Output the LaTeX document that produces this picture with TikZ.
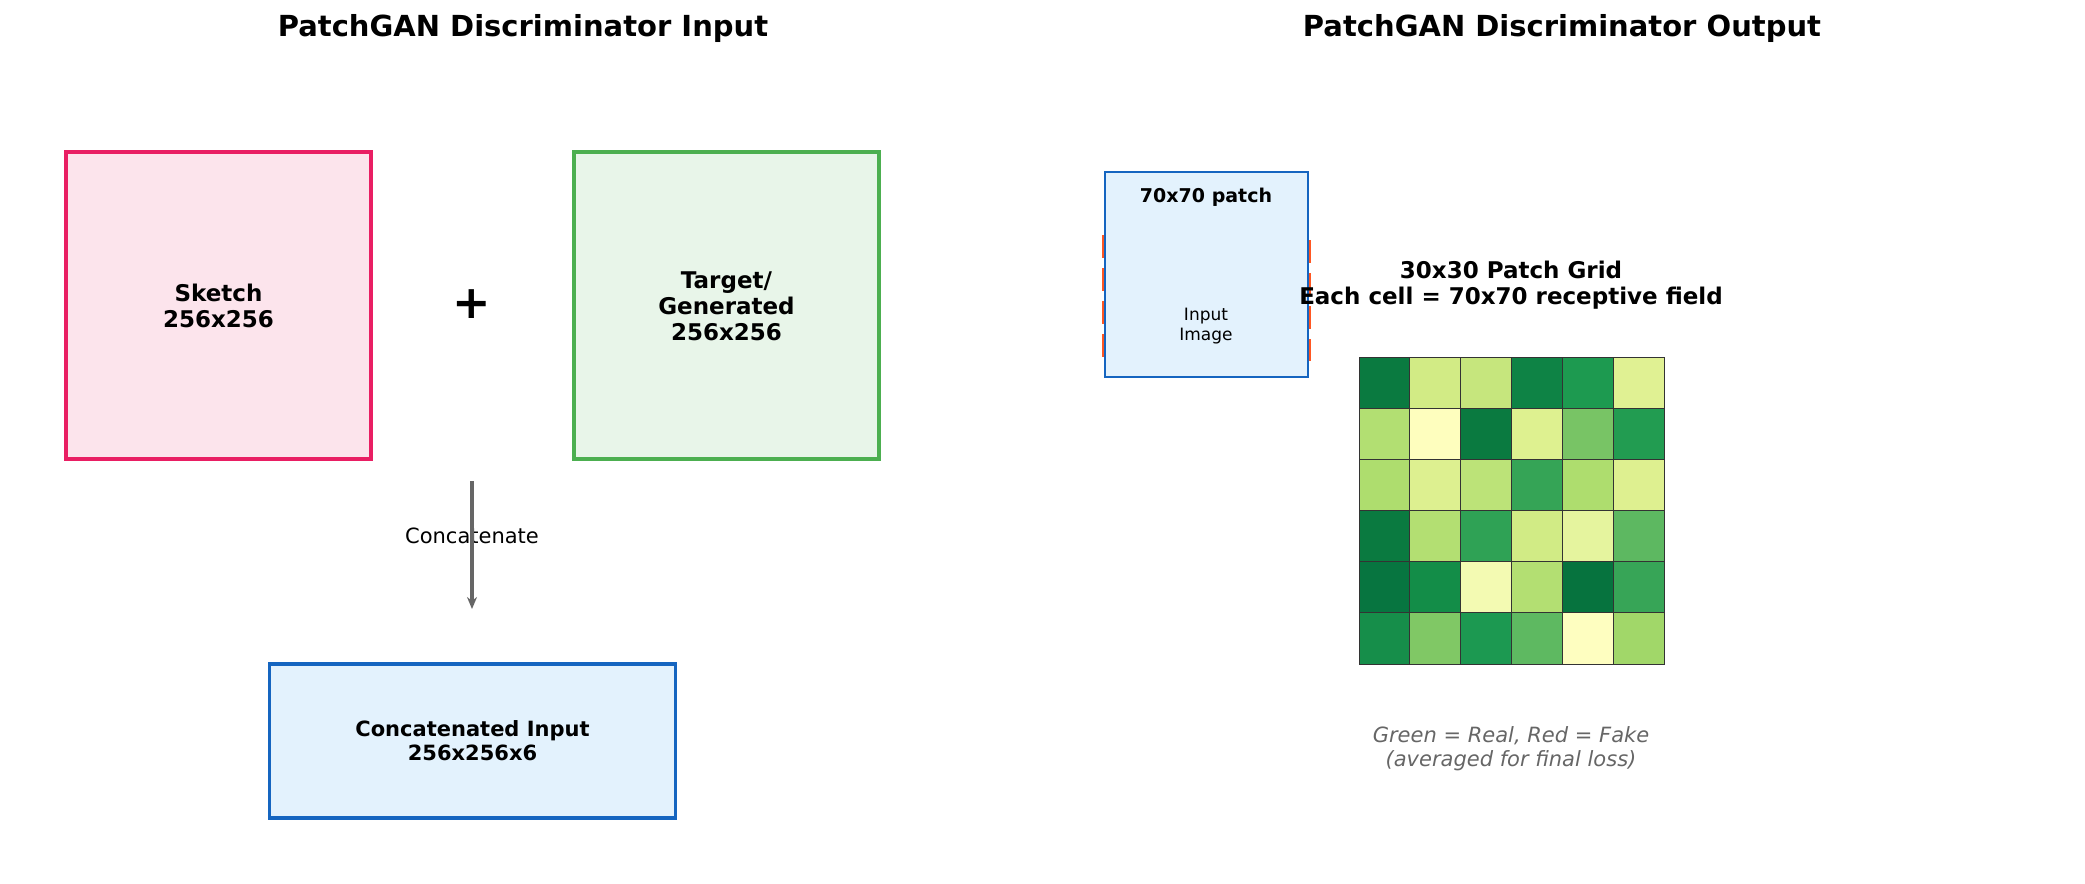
\documentclass[tikz,border=0pt]{standalone}
\usepackage{fontspec}
\setmainfont{DejaVu Sans}
\usetikzlibrary{arrows.meta}
\definecolor{gb}{HTML}{4CAF50}\definecolor{gf}{HTML}{E8F5E9}
\definecolor{bb}{HTML}{1565C0}\definecolor{bf}{HTML}{E3F2FD}
\definecolor{pb}{HTML}{E91E63}\definecolor{pf}{HTML}{FCE4EC}
\definecolor{rd}{HTML}{FF5722}
\begin{document}
\begin{tikzpicture}[x=0.5pt,y=-0.5pt,
  ttl/.style={font=\bfseries\fontsize{14.5}{16}\selectfont},
  lbl/.style={font=\bfseries\fontsize{11.5}{13}\selectfont,align=center},
  cell/.style={draw=black!80,line width=0.4pt}]
\useasboundingbox (0,0) rectangle (2085,884);
\node[ttl] (t1) at (523,28) {PatchGAN Discriminator Input};
\node[ttl] (t2) at (1562,28) {PatchGAN Discriminator Output};
\draw[line width=1.6pt,draw=pb,fill=pf] (66,152) rectangle (371,459);
\node[lbl] (sk) at (218.5,306) {Sketch\\256x256};
\node[font=\bfseries\fontsize{23}{23}\selectfont] (plus) at (472,304) {+};
\draw[line width=1.6pt,draw=gb,fill=gf] (574,152) rectangle (879,459);
\node[lbl] (tg) at (726.5,306) {Target/\\Generated\\256x256};
\node[draw=bb,fill=bf,line width=1.6pt,minimum width=203pt,minimum height=77pt,font=\bfseries\fontsize{10.5}{12}\selectfont,align=center] (cc) at (472.5,741) {Concatenated Input\\256x256x6};
\node[font=\fontsize{10.5}{12}\selectfont] (cl) at (472,536) {Concatenate};
\coordinate (a1) at (472,481);
\coordinate (a2) at (472,609);
\draw[line width=1.6pt,draw=black!60,-{Stealth[length=6pt,width=5pt]}] (a1) -- (a2);
% patch
\draw[rd,line width=1.2pt,dash pattern=on 11.5pt off 5pt] (1103.5,235) rectangle (1310,360);
\draw[draw=bb,fill=bf,line width=0.9pt] (1105,172) rectangle (1308,377);
\node[font=\bfseries\fontsize{9.5}{10}\selectfont] (pt) at (1206,197) {70x70 patch};
\node[font=\fontsize{8.5}{10}\selectfont,align=center] (ii) at (1206,326) {Input\\Image};
\node[lbl] (gt) at (1511,285) {30x30 Patch Grid\\Each cell = 70x70 receptive field};
\foreach \c [count=\k from 0] in {0A7A40,D2EB85,C6E67D,0E8345,1D9A50,E0F193,
  B2DF72,FEFEBE,0A7A40,DEF190,78C465,229C51,
  AEDD6E,DDF090,BCE378,35A456,AEDD6E,DEF090,
  0A7A40,B3DF72,2FA255,D1EB85,E5F49E,5DB861,
  077540,138D48,F3FAB2,B3DF72,06733E,37A557,
  168E4A,80C865,1C9951,5EB961,FEFEC0,A1D769}{
  \pgfmathtruncatemacro{\r}{div(\k,6)}
  \pgfmathtruncatemacro{\i}{mod(\k,6)}
  \definecolor{tmpc}{HTML}{\c}
  \draw[cell,fill=tmpc] ({1359+50.83*\i},{357+51.17*\r}) rectangle ++(50.83,51.17);
}
\node[font=\itshape\fontsize{10.5}{12}\selectfont,text=black!60,align=center] (cap) at (1511,749) {Green = Real, Red = Fake\\(averaged for final loss)};
\end{tikzpicture}
\end{document}
